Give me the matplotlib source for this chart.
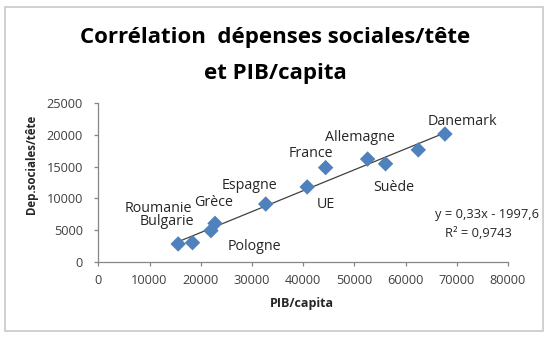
import numpy as np
import matplotlib.pyplot as plt
from matplotlib.patches import Rectangle

plt.rcParams['font.family'] = ['Open Sans', 'DejaVu Sans']

# PIB/capita and social spending per head
pays = ['Roumanie', 'Bulgarie', 'Pologne', 'Grèce', 'Espagne', 'UE',
        'France', 'Allemagne', 'Suède', '', 'Danemark']
pib = [15600, 18400, 22000, 22800, 32700, 40800, 44400, 52600, 56100, 62500, 67700]
dep = [2800, 3000, 4900, 6050, 9100, 11800, 14850, 16200, 15450, 17650, 20150]

# where each label sits (data coords), as in the reference
lab_x = [11700, 13400, 30400, 22600, 29600, 44400, 41500, 51100, 57700, 0, 71200]
lab_y = [8450, 6300, 2350, 9300, 12000, 8950, 17100, 19550, 11750, 0, 22100]

pente, ordo = 0.33, -1997.6

fig = plt.figure(figsize=(5.5, 3.37), dpi=100)
fig.patches.append(Rectangle((5 / 550, 1 - 331 / 337), 538 / 550, 324 / 337,
                             transform=fig.transFigure, fill=False,
                             edgecolor='#c8c8c8', linewidth=1.2))

ax = fig.add_axes([98.3 / 550, 1 - 261.7 / 337, 409.6 / 550, 158.4 / 337])

x = np.array(pib)
y = np.array(dep)
xs = np.array([x.min(), x.max()])
ax.plot(xs, pente * xs + ordo, color='#404040', lw=0.9, zorder=2)
ax.scatter(x, y, marker='D', s=62, color='#4f81bd', edgecolors='none', zorder=3)

for n, lx, ly in zip(pays, lab_x, lab_y):
    if n:
        ax.text(lx, ly, n, ha='center', va='center', fontsize=10.3, color='#262626')

ax.text(75900, 7400, 'y = 0,33x - 1997,6', ha='center', va='center', fontsize=9.3, color='#262626')
ax.text(74300, 4500, 'R² = 0,9743', ha='center', va='center', fontsize=9.3, color='#262626')

ax.set_xlim(0, 80000)
ax.set_ylim(0, 25000)
ax.set_xticks(range(0, 80001, 10000))
ax.set_yticks(range(0, 25001, 5000))
for s in ['top', 'right']:
    ax.spines[s].set_visible(False)
for s in ['left', 'bottom']:
    ax.spines[s].set_color('#868686')
    ax.spines[s].set_linewidth(0.9)
ax.tick_params(colors='#868686', length=3, width=0.9, labelsize=9.2, labelcolor='#404040')
ax.tick_params(axis='x', pad=6)
ax.tick_params(axis='y', pad=8)

ax.set_xlabel('PIB/capita', fontsize=9, fontweight='bold', color='#262626', va='center')
ax.xaxis.set_label_coords(0.497, -0.267)
ax.set_ylabel('Dep.sociales/tête', fontsize=8.3, fontweight='bold', color='#262626', va='center')
ax.yaxis.set_label_coords(-0.162, 0.617)

fig.text(0.5, 1 - 37 / 337, 'Corrélation  dépenses sociales/tête', ha='center', va='center',
         fontsize=16, fontweight='bold', color='black')
fig.text(0.5, 1 - 73 / 337, 'et PIB/capita', ha='center', va='center',
         fontsize=16, fontweight='bold', color='black')

fig.savefig('out.png', dpi=100)
